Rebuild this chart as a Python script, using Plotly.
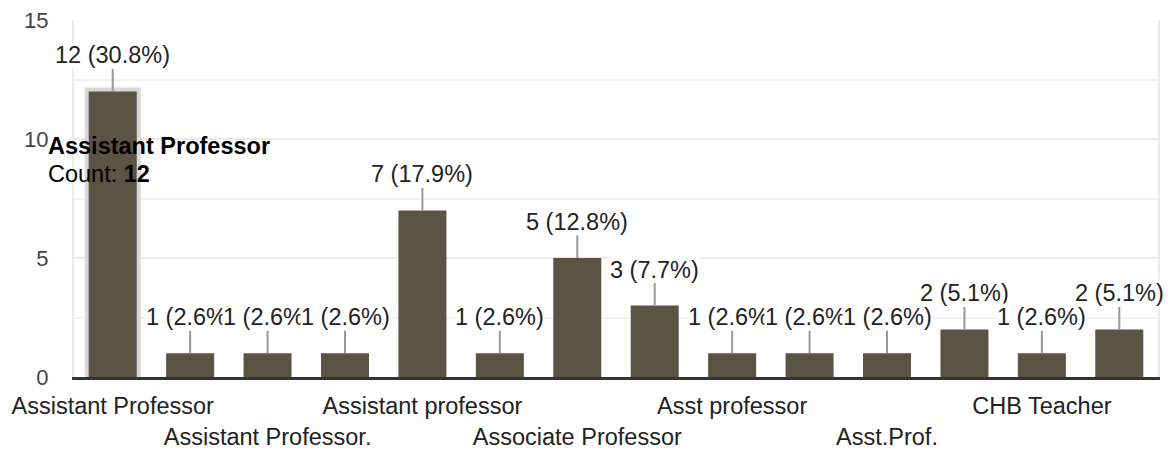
import plotly.graph_objects as go

categories = [
    "Assistant Professor", "Assistant Professor (Guest)", "Assistant Professor.",
    "Assistant Professor & HOD", "Assistant professor", "Assistant professor.",
    "Associate Professor", "Asst Professor", "Asst professor", "Asst. Professor",
    "Asst.Prof.", "Asst.Professor", "CHB Teacher", "Guest Lecturer",
]
counts = [12, 1, 1, 1, 7, 1, 5, 3, 1, 1, 1, 2, 1, 2]
y_ticks = [0, 5, 10, 15]
tooltip_title = "Assistant Professor"
tooltip_count = 12

total = sum(counts)
labels = [f"{v} ({v / total * 100:.1f}%)" for v in counts]

BAR = "#5b5343"
FONT = "Liberation Sans, Arial, sans-serif"

tickvals = categories[0::2]
ticktext = []
for i, c in enumerate(tickvals):
    ticktext.append(c if i % 2 == 0 else "\u00a0<br>" + c)

fig = go.Figure()
# hover highlight behind first bar
fig.add_trace(go.Bar(
    x=[categories[0]], y=[counts[0]],
    marker=dict(color="#d4d4d4", line=dict(color="#d8d8d8", width=8)),
    hoverinfo="skip", showlegend=False,
))
fig.add_trace(go.Bar(
    x=categories, y=counts,
    marker=dict(color=BAR, line=dict(width=0)),
    showlegend=False,
))

annotations = []
for c, v, t in zip(categories, counts, labels):
    annotations.append(dict(
        x=c, y=v, xref="x", yref="y", text=t,
        showarrow=True, arrowhead=0, arrowwidth=2, arrowcolor="#999999",
        ax=0, ay=-36, standoff=0,
        bgcolor="white", borderpad=0,
        font=dict(family=FONT, size=23.5, color="#222222"),
    ))

annotations.append(dict(
    x=-0.026, y=0.647, xref="paper", yref="paper", xanchor="left", yanchor="middle",
    text=f"<b>{tooltip_title}</b>", showarrow=False,
    font=dict(family=FONT, size=23.5, color="#000000"),
))
annotations.append(dict(
    x=-0.026, y=0.569, xref="paper", yref="paper", xanchor="left", yanchor="middle",
    text=f"Count: <b>{tooltip_count}</b>", showarrow=False,
    font=dict(family=FONT, size=23.5, color="#000000"),
))

fig.update_layout(
    width=1168, height=452,
    margin=dict(l=74, r=10, t=20, b=75),
    paper_bgcolor="white", plot_bgcolor="white",
    barmode="overlay", bargap=0.38,
    font=dict(family=FONT, size=23.5, color="#222222"),
    annotations=annotations,
    xaxis=dict(
        type="category", categoryorder="array", categoryarray=categories,
        range=[-0.5, len(categories) - 0.5],
        tickmode="array", tickvals=tickvals, ticktext=ticktext, tickangle=0,
        showgrid=False, showline=True, linecolor="#333333", linewidth=3,
        ticks="outside", ticklen=6, tickcolor="rgba(0,0,0,0)",
        tickfont=dict(family=FONT, size=23.5, color="#222222"),
        automargin=False, fixedrange=True,
    ),
    yaxis=dict(
        range=[0, 15], tickmode="array", tickvals=y_ticks,
        showgrid=True, gridcolor="#ebebeb", gridwidth=2,
        minor=dict(dtick=2.5, tick0=0, showgrid=True, gridcolor="#f2f2f2", gridwidth=2),
        zeroline=False,
        showline=True, linecolor="#ebebeb", linewidth=2, mirror=True,
        ticks="outside", ticklen=19, tickcolor="rgba(0,0,0,0)",
        tickfont=dict(family=FONT, size=22, color="#444444"),
        automargin=False, fixedrange=True,
    ),
)

fig.write_html("out.html", config={"displayModeBar": False},
               post_script="document.body.style.margin='0';")
